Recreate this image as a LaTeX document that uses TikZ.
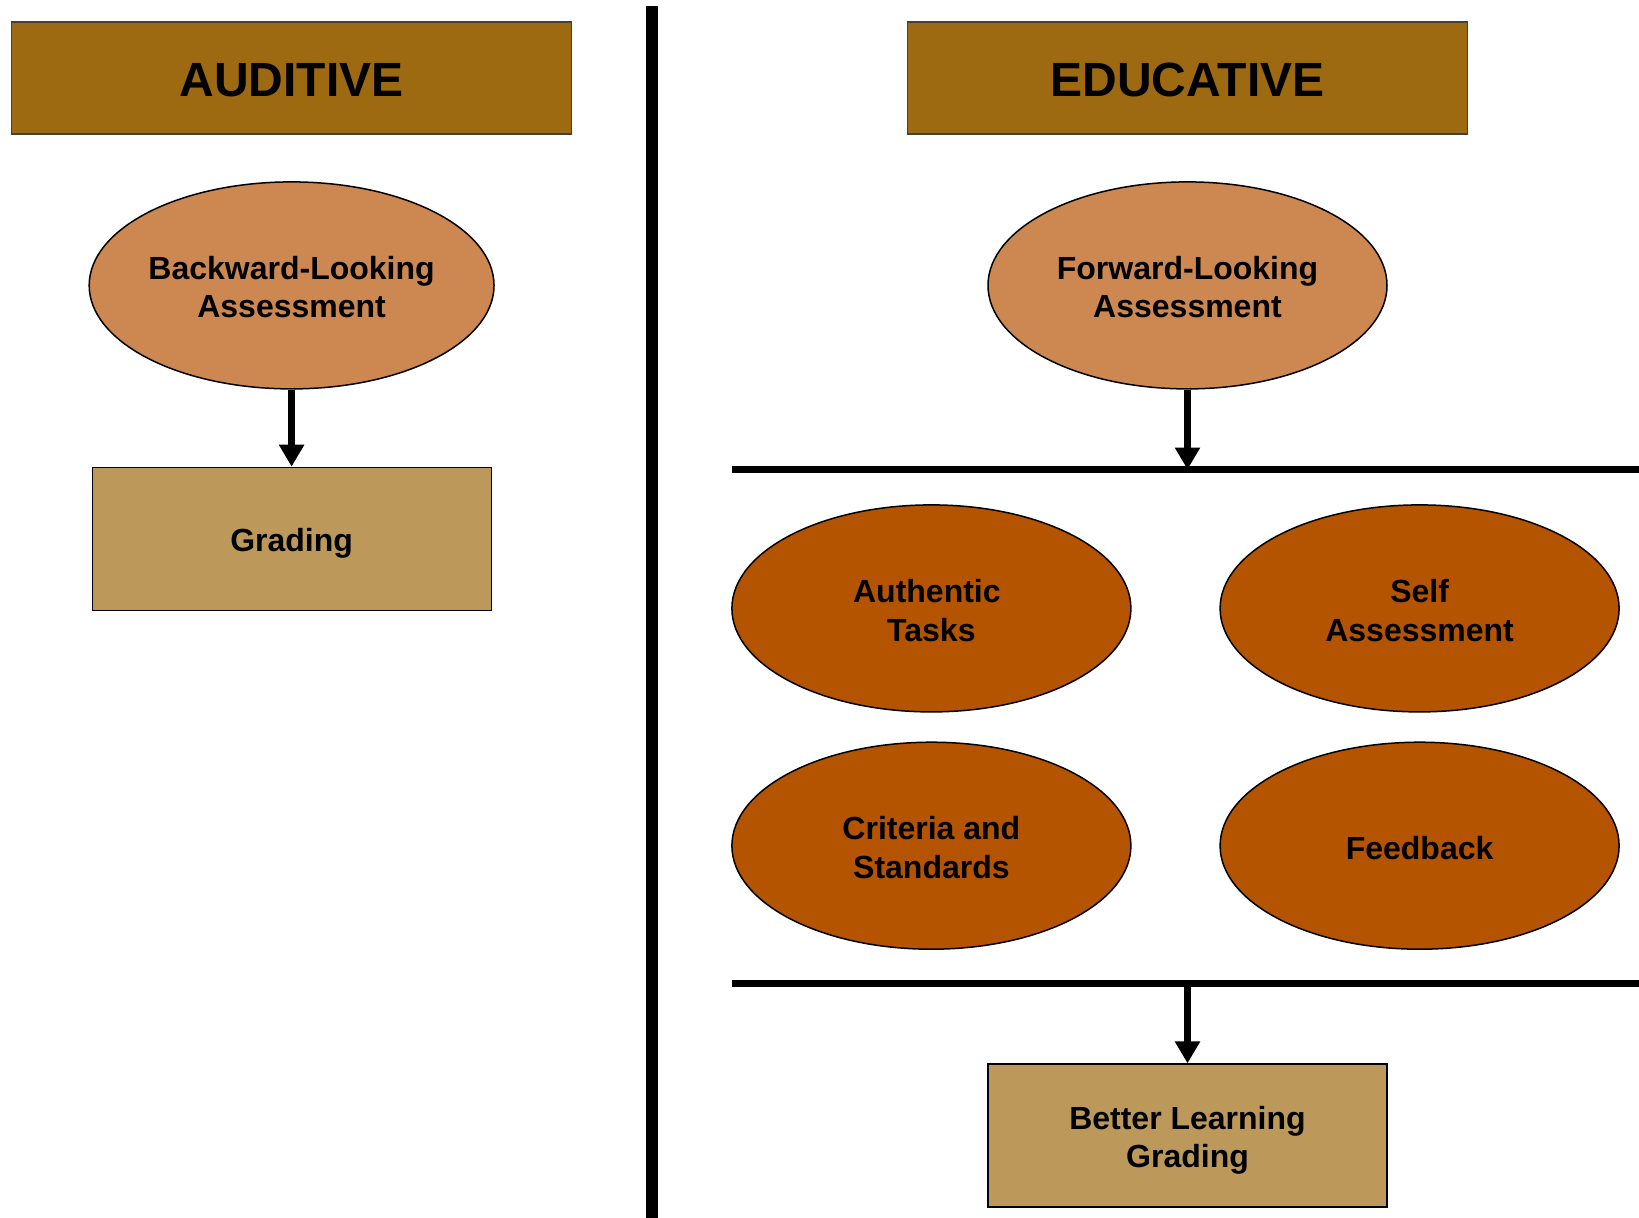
\documentclass[tikz,border=0pt]{standalone}
\usepackage{fontspec}
\setmainfont{Liberation Sans}
\usetikzlibrary{arrows.meta,shapes.geometric}
\definecolor{hdr}{RGB}{158,106,17}
\definecolor{lightell}{RGB}{205,135,80}
\definecolor{darkell}{RGB}{180,83,0}
\definecolor{boxfill}{RGB}{188,153,91}
\newcommand{\ehi}{\rule{0pt}{27pt}}
\newcommand{\bhi}{\rule{0pt}{33pt}}
\tikzset{
  header/.style={draw=black!75, line width=1.3pt, fill=hdr, minimum width=560pt, minimum height=112pt, inner sep=0pt,
    font=\fontsize{48}{56}\selectfont\bfseries},
  ell/.style={ellipse, draw=black, line width=1.5pt, minimum width=399pt, minimum height=207pt, inner sep=0pt, align=center,
    font=\fontsize{32}{38.5}\selectfont\bfseries},
  lightE/.style={ell, fill=lightell},
  darkE/.style={ell, fill=darkell},
  resbox/.style={draw=black, line width=1.2pt, fill=boxfill, minimum width=399pt, minimum height=143pt, inner sep=0pt, align=center,
    font=\fontsize{32}{38.5}\selectfont\bfseries},
  arr/.style={line width=7pt, -{Triangle[width=24pt,length=22pt]}},
  bar/.style={line width=7pt},
}
\begin{document}
\begin{tikzpicture}[x=1pt,y=-1pt]
\useasboundingbox (0,0) rectangle (1639,1218);
% divider
\coordinate (vtop) at (652,6);
\coordinate (vbot) at (652,1218);
\draw[line width=12pt] (vtop) -- (vbot);
% headers
\node[header] (aud) at (291.6,78) {\rule{0pt}{37pt}AUDITIVE};
\node[header] (edu) at (1187.5,78) {\rule{0pt}{37pt}EDUCATIVE};
% left
\node[lightE] (back) at (291.6,285.4) {\ehi Backward-Looking\\Assessment};
\node[resbox] (grad) at (291.6,538.8) {\bhi Grading};
\draw[arr] (back.south) -- (grad.north);
% right
\node[lightE] (fwd) at (1187.5,285.4) {\ehi Forward-Looking\\Assessment};
\coordinate (l1a) at (731.7,469.5);
\coordinate (l1b) at (1639,469.5);
\coordinate (l1m) at (1187.5,469.5);
\draw[bar] (l1a) -- (l1b);
\draw[arr] (fwd.south) -- (l1m);
\node[darkE] (auth) at (931.4,608.4) {\ehi Authentic\kern9pt\\Tasks};
\node[darkE] (self) at (1419.6,608.4) {\ehi Self\\Assessment};
\node[darkE] (crit) at (931.4,845.7) {\ehi Criteria and\\Standards};
\node[darkE] (feed) at (1419.6,845.7) {\ehi Feedback};
\coordinate (l2a) at (731.7,983);
\coordinate (l2b) at (1639,983);
\coordinate (l2m) at (1187.5,983);
\draw[bar] (l2a) -- (l2b);
\node[resbox] (better) at (1187.5,1135.5) {\bhi Better Learning\\Grading};
\draw[arr] (l2m) -- (better.north);
\end{tikzpicture}
\end{document}
